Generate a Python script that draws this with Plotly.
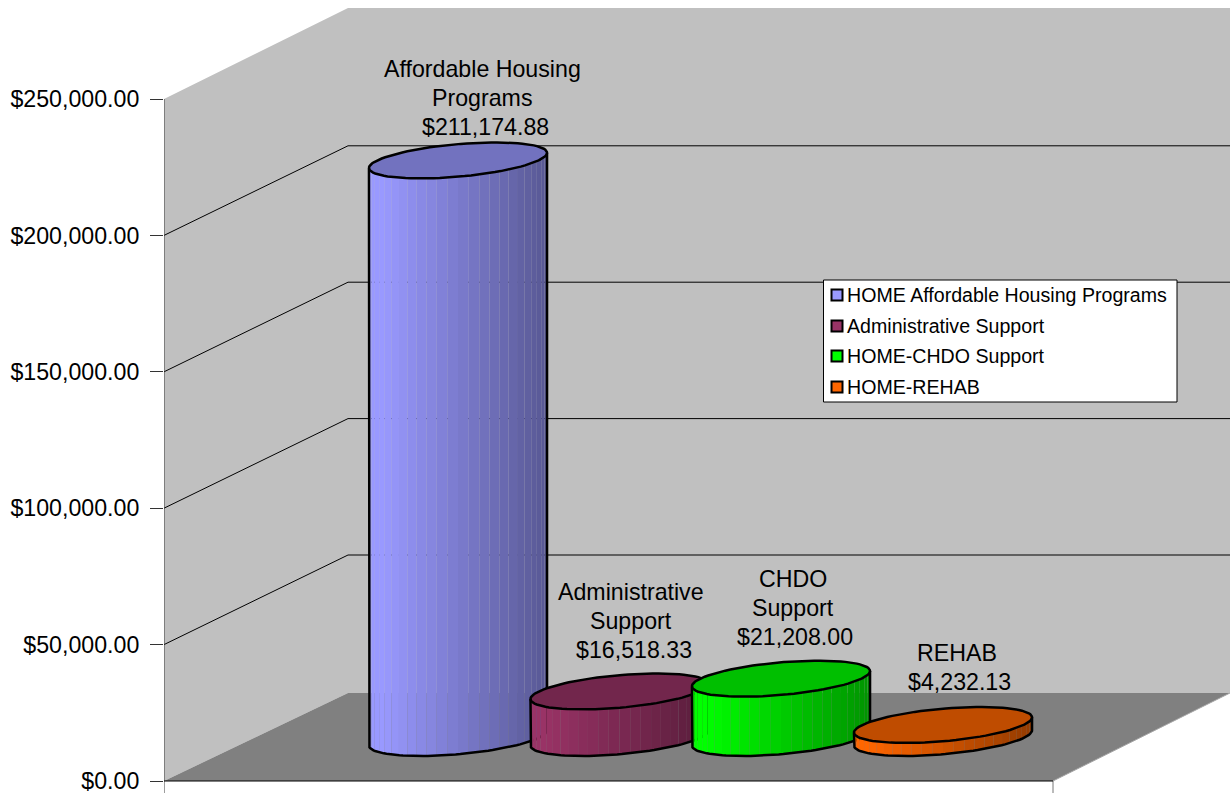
import numpy as np
import plotly.graph_objects as go

# ---- chart data ----
legend_names = ["HOME Affordable Housing Programs", "Administrative Support",
                "HOME-CHDO Support", "HOME-REHAB"]
label_lines = [["Affordable Housing", "Programs"], ["Administrative", "Support"],
               ["CHDO", "Support"], ["REHAB"]]
values = [211174.88, 16518.33, 21208.00, 4232.13]
value_labels = ["$211,174.88", "$16,518.33", "$21,208.00", "$4,232.13"]
tick_values = [0, 50000, 100000, 150000, 200000, 250000]
tick_labels = ["$0.00", "$50,000.00", "$100,000.00", "$150,000.00", "$200,000.00", "$250,000.00"]

# ---- colours ----
side_colors = [(153, 153, 255), (153, 51, 102), (0, 255, 0), (255, 102, 0)]
WALL, FLOOR = "#C0C0C0", "#808080"

# ---- layout geometry (page pixels) ----
W, H = 1230, 793
LEFT, BASE_PX = 164, 781
PX_PER_DOLLAR = 682 / 250000
FRONT_W = 889
DX, DY_WALL, DY_GRID, DY_FLOOR = 184, 91, 89.6, 88
slot_px = [458, 619.5, 781, 943]
base_center_px = 738
TOP_LIFT = 1.5
R_A, R_BX, R_BY = 80.7, 37.6, 18
N_STRIPS = 26
name_x_px = [482.5, 630.5, 792.5, 956.5]
value_x_px = [485.5, 634, 795, 959]
label_last_line_px = [127, 650, 637, 682]
LINE_STEP = 29
FONT = "Liberation Sans"
LABEL_SIZE, LEGEND_SIZE = 23.2, 19.6


def X(p):
    return np.asarray(p, dtype=float) - LEFT


def Y(p):
    return (BASE_PX - np.asarray(p, dtype=float)) / PX_PER_DOLLAR


fig = go.Figure()


def poly(xs, ys, fill=None, line=None, width=1):
    fig.add_trace(go.Scatter(
        x=X(xs), y=Y(ys), mode="lines", hoverinfo="skip", showlegend=False,
        fill="toself" if fill else None, fillcolor=fill, cliponaxis=False,
        line=dict(color=line or "rgba(0,0,0,0)", width=width if line else 0)))


# walls and floor
back_top = BASE_PX - 682 - DY_WALL
poly([LEFT, LEFT + DX, W, W, LEFT + DX, LEFT],
     [BASE_PX - 682, back_top, back_top, BASE_PX - DY_FLOOR, BASE_PX - DY_FLOOR, BASE_PX], fill=WALL)
poly([LEFT, LEFT + DX, W, LEFT + FRONT_W],
     [BASE_PX, BASE_PX - DY_FLOOR, BASE_PX - DY_FLOOR, BASE_PX], fill=FLOOR)
poly([LEFT + FRONT_W, W], [BASE_PX, BASE_PX - DY_FLOOR], line="#A6A6A6")

# gridlines on the walls
for t in tick_values[1:-1]:
    front = BASE_PX - t * PX_PER_DOLLAR
    poly([LEFT, LEFT + DX, W], [front, front - DY_GRID, front - DY_GRID], line="#000000")

# axis lines and the two category ticks
poly([LEFT, LEFT], [BASE_PX - 682, H], line="#3C3C3C")
poly([LEFT + FRONT_W, LEFT + FRONT_W], [BASE_PX, H], line="#777777")
poly([LEFT, LEFT + FRONT_W], [BASE_PX, BASE_PX], line="#000000")

# cylinders
t0 = np.arctan2(R_BX, R_A)


def ring(cx, cy, t):
    return cx + R_A * np.cos(t) + R_BX * np.sin(t), cy - R_BY * np.sin(t)


for cx, val, col in zip(slot_px, values, side_colors):
    col = np.array(col, dtype=float)
    top_y = base_center_px - val * PX_PER_DOLLAR - TOP_LIFT
    edges = np.linspace(t0 + np.pi, t0 + 2 * np.pi, N_STRIPS + 1)
    for i in range(N_STRIPS):
        tt = np.linspace(edges[i], edges[i + 1], 4)
        xb, yb = ring(cx, base_center_px, tt)
        xt, yt = ring(cx, top_y, tt)
        frac = (xb.mean() - (cx - 89)) / 178
        c = col * (1.0 - 0.42 * max(0.0, (frac - 0.08) / 0.92))
        poly(np.r_[xb, xt[::-1]], np.r_[yb, yt[::-1]],
             fill="rgb(%d,%d,%d)" % tuple(c))
    # outline of the side
    tt = np.linspace(t0 + np.pi, t0 + 2 * np.pi, 60)
    xb, yb = ring(cx, base_center_px, tt)
    xl, yl = ring(cx, top_y, np.array([t0 + np.pi]))
    xr, yr = ring(cx, top_y, np.array([t0 + 2 * np.pi]))
    poly(np.r_[xl, xb, xr], np.r_[yl, yb, yr], line="#000000", width=2.5)
    # top face
    tt = np.linspace(0, 2 * np.pi, 90)
    xt, yt = ring(cx, top_y, tt)
    c = col * 0.75
    poly(xt, yt, fill="rgb(%d,%d,%d)" % tuple(c), line="#000000", width=2.5)

# legend box
box_l, box_r, box_t, box_b = 823.5, 1177, 280, 402
poly([box_l, box_r, box_r, box_l, box_l], [box_t, box_t, box_b, box_b, box_t],
     fill="#FFFFFF", line="#000000")
legend_rows = [295, 326, 356, 387]
fig.add_trace(go.Scatter(
    x=X([837] * 4), y=Y(legend_rows), mode="markers", hoverinfo="skip", showlegend=False,
    marker=dict(symbol="square", size=11,
                color=["rgb(%d,%d,%d)" % c for c in side_colors],
                line=dict(color="#000000", width=2))))

annotations = []
for name, row in zip(legend_names, legend_rows):
    annotations.append(dict(x=float(X(847)), y=float(Y(row)), text=name, showarrow=False,
                            xanchor="left", yanchor="middle", xshift=-2,
                            font=dict(family=FONT, size=LEGEND_SIZE, color="#000000")))
for lines, amount, nx, vx, ly in zip(label_lines, value_labels, name_x_px, value_x_px, label_last_line_px):
    all_lines = lines + [amount]
    for k, txt in enumerate(all_lines):
        row = ly - LINE_STEP * (len(all_lines) - 1 - k)
        lx = vx if k == len(all_lines) - 1 else nx
        annotations.append(dict(x=float(X(lx)), y=float(Y(row)), text=txt,
                                showarrow=False, xanchor="center", yanchor="middle",
                                font=dict(family=FONT, size=LABEL_SIZE, color="#000000")))

fig.update_layout(
    width=W, height=H, autosize=False,
    margin=dict(l=LEFT, r=0, t=0, b=0, pad=0),
    paper_bgcolor="#FFFFFF", plot_bgcolor="#FFFFFF",
    showlegend=False, hovermode=False, annotations=annotations,
    font=dict(family=FONT, color="#000000"),
    xaxis=dict(range=[0, W - LEFT], visible=False),
    yaxis=dict(range=[float(Y(H)), float(Y(0))], showgrid=False, zeroline=False, showline=False,
               tickmode="array", tickvals=tick_values, ticktext=tick_labels,
               ticks="outside", ticklen=13, ticklabeloverflow="allow",
               tickcolor="#333333", tickwidth=1, ticklabelstandoff=6,
               tickfont=dict(family=FONT, size=LABEL_SIZE, color="#000000")),
)

fig.write_html("out.html", config=dict(displayModeBar=False),
               post_script="document.body.style.margin='0';")
